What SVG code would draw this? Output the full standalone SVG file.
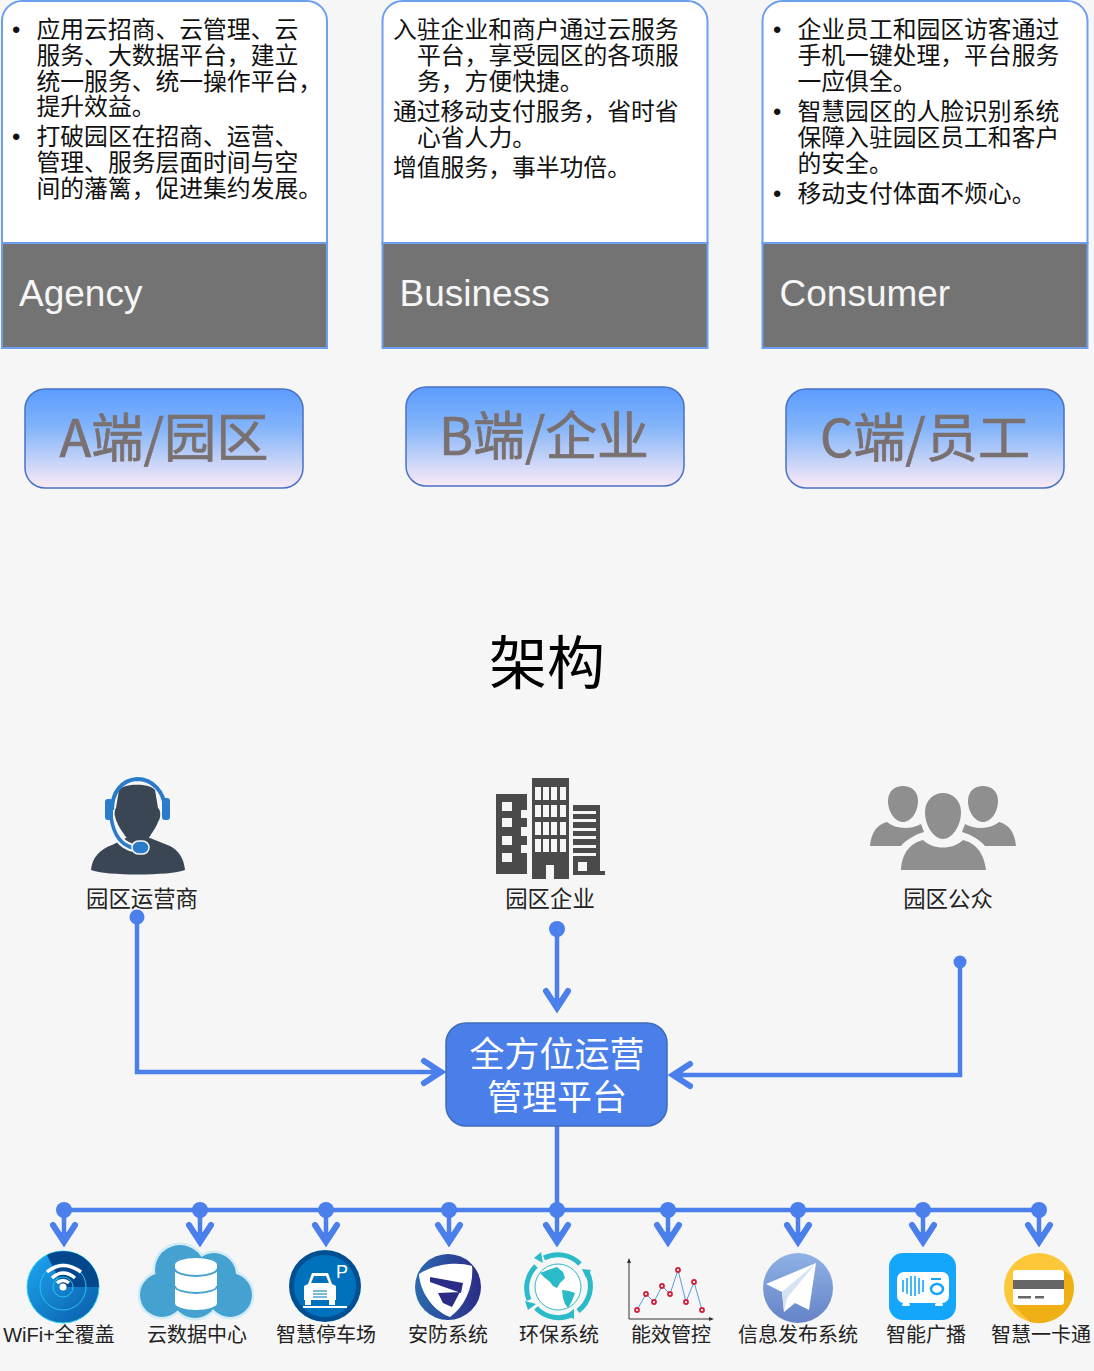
<svg xmlns="http://www.w3.org/2000/svg" width="1094" height="1371" viewBox="0 0 1094 1371">
<style>
text{font-family:"Liberation Sans","Noto Sans CJK SC",sans-serif}
.body{font-size:23.8px;fill:#111}
.head{font-size:37px;fill:#f6f6f6}
.card{fill:#fff;stroke:#6d9eef;stroke-width:2}
.band{fill:#737373;stroke:#6d9eef;stroke-width:2}
.btn{fill:url(#btnGrad);stroke:#4a72c4;stroke-width:1.5}
.btnT{font-family:"Liberation Sans Narrow","Noto Sans CJK SC",sans-serif;font-size:52px;fill:#7a7070;stroke:#7a7070;stroke-width:.7;text-anchor:middle}
.lab{font-size:22.4px;fill:#222;text-anchor:middle}
.sm{font-size:20px;fill:#222;text-anchor:middle}
.wire{fill:none;stroke:#4a7fec;stroke-width:4.5}
.tip{marker-end:url(#arrow)}
.dot{fill:#4a7fec}
</style>
<defs>
<linearGradient id="btnGrad" x1="0" y1="0" x2="0" y2="1"><stop offset="0" stop-color="#5b9cff"/><stop offset=".4" stop-color="#84b5fa"/><stop offset="1" stop-color="#fbebf6"/></linearGradient>
<linearGradient id="wifiGrad" x1="0" y1="0" x2="1" y2="1"><stop offset="0" stop-color="#1ea8f5"/><stop offset="1" stop-color="#0a5aa5"/></linearGradient>
<linearGradient id="planeGrad" x1="0" y1="0" x2="0" y2="1"><stop offset="0" stop-color="#8fb2e6"/><stop offset="1" stop-color="#6583c6"/></linearGradient>
<linearGradient id="shieldGrad" x1="0" y1="0" x2="1" y2="0"><stop offset="0" stop-color="#2a6ab0"/><stop offset="1" stop-color="#2b2c86"/></linearGradient>
<marker id="arrow" markerUnits="userSpaceOnUse" markerWidth="40" markerHeight="40" refX="28" refY="20" orient="auto" overflow="visible">
<path d="M11,9 L28,20 L11,31" fill="none" stroke="#4a7fec" stroke-width="6" stroke-linecap="round" stroke-linejoin="miter"/>
<path d="M18,14 L30,20 L18,26Z" fill="#4a7fec"/>
</marker>
</defs>
<rect width="1094" height="1371" fill="#f6f6f6"/>

<g id="card-agency">
<path class="card" d="M2,243V21a20,20 0 0 1 20,-20H307a20,20 0 0 1 20,20V243Z"/>
<rect class="band" x="2" y="243" width="325" height="105"/>
<g class="body">
<text x="12" y="38">•</text><text x="36.5" y="38">应用云招商、云管理、云</text>
<text x="36.5" y="64">服务、大数据平台，建立</text>
<text x="36.5" y="90">统一服务、统一操作平台，</text>
<text x="36.5" y="115">提升效益。</text>
<text x="12" y="145">•</text><text x="36.5" y="145">打破园区在招商、运营、</text>
<text x="36.5" y="171">管理、服务层面时间与空</text>
<text x="36.5" y="197">间的藩篱，促进集约发展。</text>
</g>
<text class="head" x="19" y="306">Agency</text>
</g>

<g id="card-business">
<path class="card" d="M382.500,243V21a20,20 0 0 1 20,-20H687.500a20,20 0 0 1 20,20V243Z"/>
<rect class="band" x="382.500" y="243" width="325" height="105"/>
<g class="body">
<text x="393" y="38">入驻企业和商户通过云服务</text>
<text x="417" y="64">平台，享受园区的各项服</text>
<text x="417" y="90">务，方便快捷。</text>
<text x="393" y="120">通过移动支付服务，省时省</text>
<text x="417" y="146">心省人力。</text>
<text x="393" y="176">增值服务，事半功倍。</text>
</g>
<text class="head" x="399.500" y="306">Business</text>
</g>

<g id="card-consumer">
<path class="card" d="M762.500,243V21a20,20 0 0 1 20,-20H1067.500a20,20 0 0 1 20,20V243Z"/>
<rect class="band" x="762.500" y="243" width="325" height="105"/>
<g class="body">
<text x="773" y="38">•</text><text x="797.500" y="38">企业员工和园区访客通过</text>
<text x="797.500" y="64">手机一键处理，平台服务</text>
<text x="797.500" y="90">一应俱全。</text>
<text x="773" y="120">•</text><text x="797.500" y="120">智慧园区的人脸识别系统</text>
<text x="797.500" y="146">保障入驻园区员工和客户</text>
<text x="797.500" y="172">的安全。</text>
<text x="773" y="202">•</text><text x="797.500" y="202">移动支付体面不烦心。</text>
</g>
<text class="head" x="779.500" y="306">Consumer</text>
</g>

<g id="btn-a"><rect class="btn" x="25" y="389" width="278" height="99" rx="20"/><text class="btnT" x="164" y="457" textLength="209" lengthAdjust="spacingAndGlyphs">A端/园区</text></g>
<g id="btn-b"><rect class="btn" x="406" y="387" width="278" height="99" rx="20"/><text class="btnT" x="544" y="455" textLength="210" lengthAdjust="spacingAndGlyphs">B端/企业</text></g>
<g id="btn-c"><rect class="btn" x="786" y="389" width="278" height="99" rx="20"/><text class="btnT" x="925" y="457" textLength="210" lengthAdjust="spacingAndGlyphs">C端/员工</text></g>

<text id="title" x="547" y="684" font-size="58" fill="#000" text-anchor="middle">架构</text>

<g id="connectors">
<path class="wire tip" d="M137,917V1072H441"/>
<path class="wire tip" d="M557,929V1008"/>
<path class="wire tip" d="M960,962V1075H673"/>
<path class="wire" d="M557,1126V1210M64,1210H1039"/>
<path class="wire tip" d="M64,1210V1242"/>
<path class="wire tip" d="M200,1210V1242"/>
<path class="wire tip" d="M326,1210V1242"/>
<path class="wire tip" d="M449,1210V1242"/>
<path class="wire tip" d="M557,1210V1242"/>
<path class="wire tip" d="M668,1210V1242"/>
<path class="wire tip" d="M798,1210V1242"/>
<path class="wire tip" d="M923,1210V1242"/>
<path class="wire tip" d="M1039,1210V1242"/>
<circle class="dot" cx="137" cy="917" r="7.500"/>
<circle class="dot" cx="557" cy="929" r="8"/>
<circle class="dot" cx="960" cy="962" r="6.500"/>
<circle class="dot" cx="64" cy="1210" r="8"/>
<circle class="dot" cx="200" cy="1210" r="8"/>
<circle class="dot" cx="326" cy="1210" r="8"/>
<circle class="dot" cx="449" cy="1210" r="8"/>
<circle class="dot" cx="557" cy="1210" r="8"/>
<circle class="dot" cx="668" cy="1210" r="8"/>
<circle class="dot" cx="798" cy="1210" r="8"/>
<circle class="dot" cx="923" cy="1210" r="8"/>
<circle class="dot" cx="1039" cy="1210" r="8"/>
</g>

<g id="operator">
<path d="M91,870C92,858 100,849 112,845L126,838L150,838L170,846C178,850 184,858 185,870C170,876 106,876 91,870Z" fill="#3b4654"/>
<path d="M119,790C124,783 150,783 155,790L158,808C161,810 161,818 158,822C155,830 149,836 148,840H128C126,836 120,830 117,822C114,818 114,810 116,808Z" fill="#3b4654"/>
<path d="M112,810C112,792 122,780 137,779C153,779 164,792 165,808" fill="none" stroke="#2a7ccb" stroke-width="4"/>
<path d="M111,816C113,835 122,846 134,848" fill="none" stroke="#f6f6f6" stroke-width="8"/>
<path d="M111,816C113,835 122,846 134,848" fill="none" stroke="#2a7ccb" stroke-width="3.500"/>
<rect x="105" y="799" width="8" height="21" rx="3" fill="#2a7ccb"/>
<rect x="162" y="798" width="8" height="22" rx="3" fill="#2a7ccb"/>
<rect x="132" y="841" width="17" height="13" rx="6.500" fill="#2a7ccb" stroke="#f6f6f6" stroke-width="1.500"/>
<text class="lab" x="142" y="906.500">园区运营商</text>
</g>

<g id="enterprise">
<path d="M496,794H527V874H496ZM532,778H569V879H554V865H546V879H532ZM573,805H600V871H605V875H573Z" fill="#4a4a4a"/>
<g fill="#f6f6f6">
<rect x="502" y="802" width="10" height="9"/><rect x="502" y="818" width="10" height="9"/><rect x="502" y="836" width="10" height="9"/><rect x="502" y="853" width="10" height="9"/>
<rect x="521" y="810" width="6" height="8"/><rect x="521" y="827" width="6" height="9"/><rect x="521" y="845" width="6" height="8"/>
<rect x="535" y="787" width="6" height="13"/><rect x="543" y="787" width="6" height="13"/><rect x="551" y="787" width="6" height="13"/><rect x="560" y="787" width="6" height="13"/>
<rect x="535" y="805" width="6" height="12"/><rect x="543" y="805" width="6" height="12"/><rect x="551" y="805" width="6" height="12"/><rect x="560" y="805" width="6" height="12"/>
<rect x="535" y="822" width="6" height="13"/><rect x="543" y="822" width="6" height="13"/><rect x="551" y="822" width="6" height="13"/><rect x="560" y="822" width="6" height="13"/>
<rect x="535" y="839" width="6" height="13"/><rect x="543" y="839" width="6" height="13"/><rect x="551" y="839" width="6" height="13"/><rect x="560" y="839" width="6" height="13"/>
<rect x="573" y="811" width="23" height="3"/><rect x="573" y="819" width="23" height="3"/><rect x="573" y="828" width="23" height="3"/><rect x="573" y="836" width="23" height="3"/><rect x="573" y="845" width="23" height="3"/><rect x="573" y="853" width="23" height="3"/>
<rect x="578" y="862" width="9" height="9"/>
</g>
<text class="lab" x="550" y="906.500">园区企业</text>
</g>

<g id="public">
<g fill="#8f8f8f">
<path d="M888,801C888,791 895,786 903,786C911,786 918,791 918,801C918,812 911,822 903,822C895,822 888,812 888,801Z"/>
<path d="M968,801C968,791 975,786 983,786C991,786 998,791 998,801C998,812 991,822 983,822C975,822 968,812 968,801Z"/>
<path d="M925,812C925,800 934,793 943,793C952,793 961,800 961,812C961,826 952,839 943,839C934,839 925,826 925,812Z"/>
<path d="M870,846C871,832 878,824 887,822C895,829 910,830 921,824L924,832C914,835 906,840 901,846Z"/>
<path d="M1016,846C1015,832 1008,824 999,822C991,829 976,830 965,824L962,832C972,835 980,840 985,846Z"/>
<path d="M901,870C902,852 911,843 923,840C933,850 953,850 963,840C975,843 984,852 986,870Z"/>
</g>
<text class="lab" x="948" y="906.500">园区公众</text>
</g>

<g id="platform">
<rect x="446" y="1023" width="221" height="103" rx="20" fill="#4a7ee8" stroke="#3f6cb8" stroke-width="1.500"/>
<text x="557" y="1067" font-size="35" fill="#fff" text-anchor="middle">全方位运营</text>
<text x="557" y="1110" font-size="35" fill="#fff" text-anchor="middle">管理平台</text>
</g>

<g id="wifi">
<circle cx="63" cy="1287" r="36" fill="url(#wifiGrad)" stroke="#2ad0f5" stroke-width="1"/>
<path d="M47,1255A36,36 0 0 1 99,1287L63,1287Z" fill="#05478c"/>
<circle cx="63" cy="1287" r="23" fill="none" stroke="#28c4ee" stroke-width="1"/>
<circle cx="63" cy="1287" r="10" fill="none" stroke="#28c4ee" stroke-width="1"/>
<g fill="none" stroke="#fff" stroke-width="3.500"><path d="M47,1272Q63,1259 81,1272"/><path d="M52,1278Q63,1268 75,1278"/><path d="M57,1283Q63,1278 69,1283"/></g>
<circle cx="63" cy="1287" r="3.500" fill="#fff"/>
<text class="sm" x="59" y="1342">WiFi+全覆盖</text>
</g>

<g id="cloud">
<g fill="#d3ecf8" stroke="#d3ecf8" stroke-width="5"><circle cx="162" cy="1295" r="22"/><circle cx="230" cy="1295" r="22"/><circle cx="180" cy="1270" r="25"/><circle cx="214" cy="1275" r="22"/><circle cx="195" cy="1295" r="23"/></g>
<g fill="#45a1cf"><circle cx="162" cy="1295" r="22"/><circle cx="230" cy="1295" r="22"/><circle cx="180" cy="1270" r="25"/><circle cx="214" cy="1275" r="22"/><circle cx="195" cy="1295" r="23"/></g>
<path d="M175,1265A21,7 0 0 1 217,1265V1303A21,7 0 0 1 175,1303Z" fill="#fff"/>
<g fill="none" stroke="#45a1cf" stroke-width="1.800"><path d="M175,1269A21,7 0 0 0 217,1269"/><path d="M175,1286A21,7 0 0 0 217,1286"/></g>
<text class="sm" x="197" y="1342">云数据中心</text>
</g>

<g id="parking">
<circle cx="325" cy="1286" r="36" fill="#004f93"/><circle cx="325" cy="1286" r="31" fill="#0072bc"/>
<path d="M312,1273H328L332,1284L336,1286V1300H335V1305H329V1300H311V1305H305V1300H304V1286L308,1284Z" fill="#fff"/>
<path d="M314,1276H326L329,1283H311Z" fill="#0072bc"/>
<path d="M313,1291H327M313,1294H327M313,1297H327" stroke="#0072bc" stroke-width="1" fill="none"/>
<rect x="303" y="1306" width="44" height="2" fill="#fff"/>
<text x="336" y="1278" font-size="18" fill="#fff">P</text>
<text class="sm" x="326" y="1342">智慧停车场</text>
</g>

<g id="security">
<circle cx="448" cy="1287" r="33" fill="url(#shieldGrad)"/>
<path d="M419,1274C436,1263 458,1262 472,1266C474,1284 466,1306 450,1317C433,1311 420,1292 419,1274Z" fill="#fff"/>
<path d="M430,1277L463,1283L461,1293L430,1282ZM438,1293L460,1292L452,1307L443,1303Z" fill="#2b2c86"/>
<text class="sm" x="448" y="1342">安防系统</text>
</g>

<g id="eco">
<circle cx="558" cy="1287" r="23" fill="#fff" stroke="#2bbac8" stroke-width="1"/>
<g fill="none" stroke="#2bbac8" stroke-width="5">
<path d="M544,1258A31,31 0 0 1 580,1264"/><path d="M587,1272A31,31 0 0 1 578,1311"/><path d="M573,1314A31,31 0 0 1 536,1308"/><path d="M529,1300A31,31 0 0 1 536,1266"/>
</g>
<g fill="#2bbac8">
<path d="M541,1252L534,1258L543,1263Z"/><path d="M582,1269L591,1270L586,1278Z"/><path d="M574,1309L574,1319L566,1315Z"/><path d="M525,1301L536,1304L528,1310Z"/>
<path d="M540,1273L548,1270L557,1267L563,1272L565,1278L560,1283L557,1288L553,1286L550,1282L545,1278Z"/><path d="M562,1290L569,1291L575,1293L572,1301L568,1308L565,1304L563,1298Z"/>
</g>
<text class="sm" x="559" y="1342">环保系统</text>
</g>

<g id="energy">
<path d="M629,1260V1319H712" fill="none" stroke="#333" stroke-width="1"/>
<path d="M629,1258L627,1263H631ZM714,1319L709,1317V1321Z" fill="#333"/>
<polyline points="637,1310 646,1294 654,1302 662,1286 670,1294 678,1270 686,1302 694,1282 702,1310" fill="none" stroke="#5b9bd5" stroke-width="1"/>
<g fill="#fff" stroke="#d0213c" stroke-width="1.800"><circle cx="637" cy="1310" r="2"/><circle cx="646" cy="1294" r="2"/><circle cx="654" cy="1302" r="2"/><circle cx="662" cy="1286" r="2"/><circle cx="670" cy="1294" r="2"/><circle cx="678" cy="1270" r="2"/><circle cx="686" cy="1302" r="2"/><circle cx="694" cy="1282" r="2"/><circle cx="702" cy="1310" r="2"/></g>
<text class="sm" x="671" y="1342">能效管控</text>
</g>

<g id="info">
<circle cx="798" cy="1288" r="35" fill="url(#planeGrad)"/>
<path d="M816,1263L766,1284L782,1292L784,1312L795,1303L809,1310Z" fill="#fff"/>
<path d="M816,1263L782,1292L784,1312L787,1298Z" fill="#d5e2f2"/>
<text class="sm" x="798" y="1342">信息发布系统</text>
</g>

<g id="broadcast">
<rect x="889" y="1253" width="67" height="67" rx="14" fill="#14a6fb"/>
<rect x="897" y="1272" width="52" height="31" rx="7" fill="#fff"/>
<rect x="902" y="1303" width="8" height="3" rx="1.500" fill="#fff"/><rect x="935" y="1303" width="8" height="3" rx="1.500" fill="#fff"/>
<path d="M903,1280V1292M907,1278V1294M911,1276V1296M915,1276V1296M919,1278V1294M923,1280V1292" stroke="#14a6fb" stroke-width="1.600" fill="none"/>
<rect x="931" y="1278" width="10" height="2" fill="#14a6fb"/>
<ellipse cx="937" cy="1289" rx="6" ry="5" fill="none" stroke="#14a6fb" stroke-width="2.500"/>
<text class="sm" x="926" y="1342">智能广播</text>
</g>

<g id="campus-card">
<circle cx="1039" cy="1288" r="35" fill="#fcc83a"/>
<path d="M1013,1305L1064,1270L1072,1277A35,35 0 0 1 1030,1322Z" fill="#eeb014"/>
<rect x="1013" y="1270" width="51" height="35" rx="3" fill="#fff"/>
<rect x="1013" y="1280" width="51" height="9" fill="#666"/>
<rect x="1018" y="1296" width="13" height="2.500" fill="#666"/><rect x="1035" y="1296" width="9" height="2.500" fill="#666"/>
<text class="sm" x="1041" y="1342">智慧一卡通</text>
</g>
</svg>
